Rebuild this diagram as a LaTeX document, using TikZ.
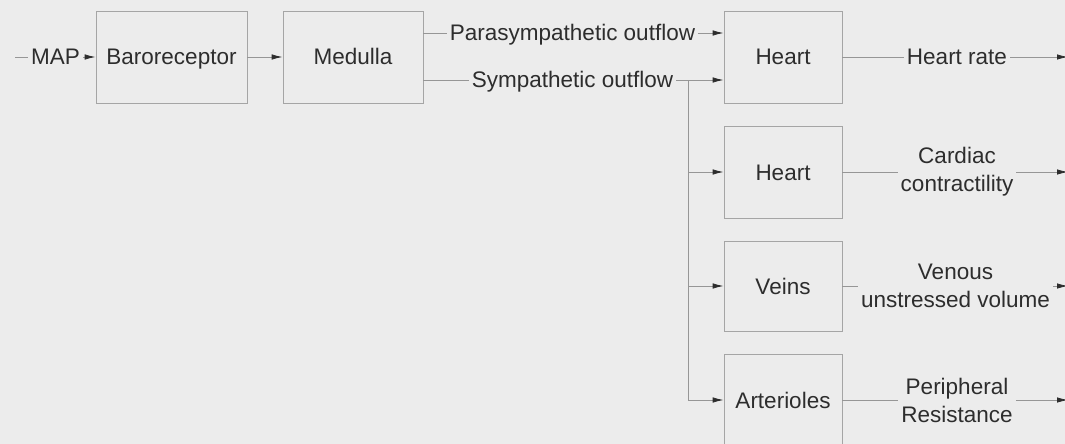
\documentclass[tikz,border=0pt]{standalone}
\usepackage{fontspec}
\setmainfont{Liberation Sans}
\usetikzlibrary{arrows.meta}
\definecolor{bg}{RGB}{236,236,236}
\definecolor{edge}{RGB}{165,165,165}
\definecolor{wire}{RGB}{150,150,150}
\definecolor{ink}{RGB}{45,45,45}
\begin{document}
\begin{tikzpicture}[x=1pt,y=-1pt,
  font=\fontsize{22.5pt}{28pt}\selectfont,
  block/.style={draw=edge, line width=0.8pt, fill=bg, minimum height=92pt, inner sep=0pt, text=ink,
    text height=18pt, text depth=2pt},
  lbl/.style={inner xsep=3pt, inner ysep=0pt, text=ink, align=center},
  onelbl/.style={lbl, text height=18pt, text depth=2pt},
  wire/.style={draw=wire, line width=0.8pt},
  feed/.style={wire, -{Latex[length=11pt,width=5.5pt,color=ink]}}
]
% canvas
\fill[bg] (0,0) rectangle (1065,444);
\clip (0,0) rectangle (1065,444);

% blocks
\node[block, minimum width=151pt] (baro) at (171.5,57) {Baroreceptor};
\node[block, minimum width=140pt] (med) at (353,57) {Medulla};
\node[block, minimum width=118pt] (hr) at (783,57) {Heart};
\node[block, minimum width=118pt] (hc) at (783,172) {Heart};
\node[block, minimum width=118pt, minimum height=90pt] (veins) at (783,286) {Veins};
\node[block, minimum width=118pt] (art) at (783,400) {Arterioles};

% signal labels
\coordinate (in) at (15,57);
\node[onelbl] (map) at (55.5,57) {MAP};
\node[onelbl] (para) at (572.5,33) {Parasympathetic outflow};
\node[onelbl] (symp) at (572.5,80) {Sympathetic outflow};
\coordinate (split) at (688,80);
\node[onelbl] (rate) at (957,57) {Heart rate};
\node[lbl] (contr) at (957,172) {Cardiac\\contractility};
\node[lbl] (venous) at (955.5,286) {Venous\\unstressed volume};
\node[lbl] (resist) at (957,400) {Peripheral\\Resistance};
\coordinate (out1) at (1068,57);
\coordinate (out2) at (1068,172);
\coordinate (out3) at (1068,286);
\coordinate (out4) at (1068,400);

% input path
\draw[wire] (in) -- (map);
\draw[feed] (map) -- (baro);
\draw[feed] (baro) -- (med);

% autonomic outflows
\draw[wire] (med.east |- para) -- (para);
\draw[feed] (para) -- (hr.west |- para);
\draw[wire] (med.east |- symp) -- (symp);
\draw[feed] (symp) -- (hr.west |- symp);
\draw[wire] (split) -- (split |- art);
\draw[feed] (split |- hc) -- (hc);
\draw[feed] (split |- veins) -- (veins);
\draw[feed] (split |- art) -- (art);

% effector outputs
\draw[wire] (hr) -- (rate);
\draw[feed] (rate) -- (out1);
\draw[wire] (hc) -- (contr);
\draw[feed] (contr) -- (out2);
\draw[wire] (veins) -- (venous);
\draw[feed] (venous) -- (out3);
\draw[wire] (art) -- (resist);
\draw[feed] (resist) -- (out4);
\end{tikzpicture}
\end{document}
